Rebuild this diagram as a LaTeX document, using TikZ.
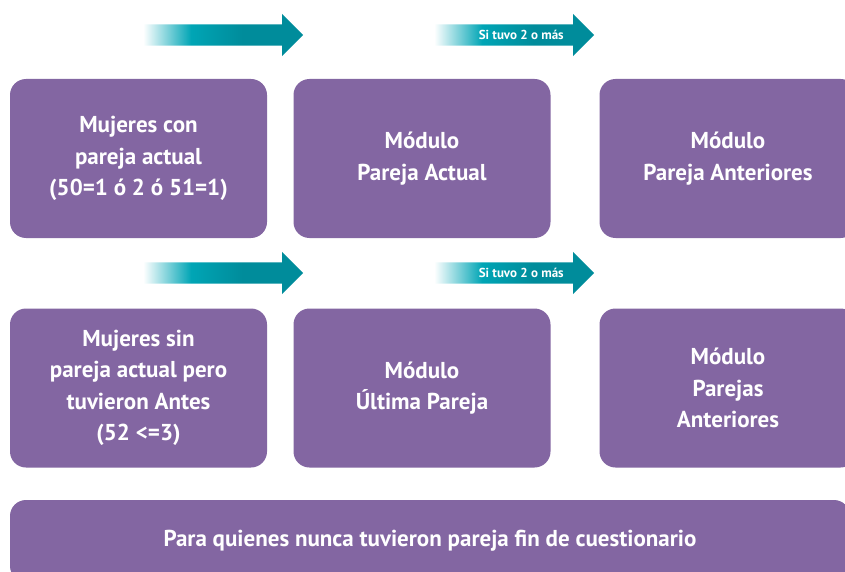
\documentclass[tikz,border=0pt]{standalone}
\usepackage{fontspec}
\setmainfont{PT Sans}
\usepackage{tikz}
\usetikzlibrary{shapes.arrows,calc}
\definecolor{modpurple}{HTML}{8366A2}
\definecolor{tealA}{HTML}{00A5B5}
\definecolor{tealB}{HTML}{008C9B}
\pgfdeclarehorizontalshading{tealfade}{100bp}{color(0bp)=(white); color(25bp)=(white); color(40bp)=(tealA); color(56bp)=(tealB); color(100bp)=(tealB)}

\begin{document}
\begin{tikzpicture}[x=1pt, y=-1pt,
    modbox/.style={rectangle, rounded corners=16pt, fill=modpurple,
                   text=white, align=center, inner sep=0pt,
                   minimum width=257pt, minimum height=159pt,
                   font=\bfseries\fontsize{23}{31.5}\selectfont},
    finbox/.style={modbox, minimum width=840pt, minimum height=82pt},
    flecha/.style={single arrow, shade, shading=tealfade, draw=none,
                   minimum height=160pt, minimum width=42pt,
                   inner sep=10.5pt, single arrow head extend=10.5pt},
    flabel/.style={text=white, font=\bfseries\fontsize{13}{15}\selectfont,
                   inner sep=0pt, xshift=7pt},
  ]
    \clip (0,0) rectangle (845,572);

    % Fila 1: mujeres con pareja actual
    \node[flecha, anchor=tail] (ar1) at (143,35) {};
    \node[flecha, anchor=tail] (ar2) at (434,35) {};
    \node[flabel] (lb2) at ($(ar2.tail)!0.5!(ar2.tip)$) {Si tuvo 2 o más};

    \node[modbox] (con) at (138.5,158.5)
      {Mujeres con\\pareja actual\\(50=1 ó 2 ó 51=1)};
    \node[modbox] (act) at (422,158.5) {Módulo\\Pareja Actual};
    \node[modbox] (ant) at (728,158.5) {Módulo\\Pareja Anteriores};

    % Fila 2: mujeres sin pareja actual
    \node[flecha, anchor=tail] (ar3) at (143,273) {};
    \node[flecha, anchor=tail] (ar4) at (434,273) {};
    \node[flabel] (lb4) at ($(ar4.tail)!0.5!(ar4.tip)$) {Si tuvo 2 o más};

    \node[modbox] (sin) at (138.5,388)
      {Mujeres sin\\pareja actual pero\\tuvieron Antes\\(52 <=3)};
    \node[modbox] (ult) at (422,388) {Módulo\\Última Pareja};
    \node[modbox] (pants) at (728,388) {Módulo\\Parejas\\Anteriores};

    % Fin
    \node[finbox] (fin) at (430,541)
      {Para quienes nunca tuvieron pareja fin de cuestionario};
  \end{tikzpicture}
\end{document}
